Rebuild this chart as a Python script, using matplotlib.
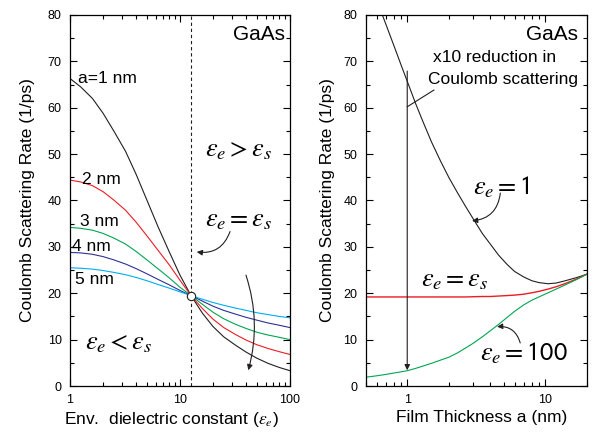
import numpy as np
from matplotlib import pyplot as plt
from matplotlib.ticker import MultipleLocator, LogLocator, NullFormatter, FixedLocator, FixedFormatter

plt.rcParams['font.family'] = ['Liberation Sans', 'DejaVu Sans']
plt.rcParams['mathtext.fontset'] = 'stix'

# left panel: rate vs environment dielectric constant, one curve per film thickness
eps_env = [1, 1.25, 1.6, 2, 2.5, 3.2, 4, 5, 6.3, 8, 10, 12.6, 16, 20, 25, 32, 40, 50, 63, 80, 100]
rate_1nm = [66.3, 64.5, 62.0, 58.8, 55.0, 50.6, 45.6, 40.1, 34.4, 28.9, 23.9, 19.5,
            15.7, 12.8, 10.6, 8.8, 7.3, 6.0, 4.9, 4.0, 3.3]
rate_2nm = [44.4, 44.0, 43.2, 41.9, 40.1, 37.9, 35.3, 32.4, 29.3, 26.1, 22.8, 19.5,
            16.7, 14.4, 12.6, 11.1, 9.9, 8.9, 8.1, 7.4, 6.8]
rate_3nm = [34.2, 34.0, 33.6, 32.9, 31.9, 30.6, 29.0, 27.2, 25.3, 23.3, 21.3, 19.5,
            17.6, 15.9, 14.5, 13.3, 12.4, 11.6, 11.0, 10.5, 10.0]
rate_4nm = [28.8, 28.7, 28.4, 27.9, 27.2, 26.3, 25.3, 24.2, 23.0, 21.8, 20.6, 19.5,
            18.3, 17.2, 16.3, 15.5, 14.8, 14.2, 13.6, 13.1, 12.6]
rate_5nm = [25.5, 25.4, 25.2, 24.9, 24.5, 24.0, 23.4, 22.7, 21.9, 21.1, 20.3, 19.5,
            18.7, 18.0, 17.4, 16.8, 16.3, 15.8, 15.4, 15.0, 14.7]
eps_s = 12.6
rate_cross = 19.5

# right panel: rate vs film thickness
film_a_eps1 = [0.66, 0.7, 0.8, 0.9, 1, 1.15, 1.3, 1.5, 1.75, 2, 2.3, 2.65, 3, 3.5, 4, 4.6,
               5.3, 6, 7, 8, 9, 10.5, 12, 14, 17, 20]
rate_eps1 = [80.0, 78.0, 73.4, 69.3, 65.7, 60.9, 57.0, 52.6, 48.4, 45.0, 41.8, 38.7, 36.1,
             32.9, 30.6, 28.2, 26.2, 24.7, 23.5, 22.7, 22.3, 22.05, 22.2, 22.7, 23.4, 24.1]
film_a = [0.5, 0.6, 0.7, 0.8, 0.9, 1, 1.15, 1.3, 1.5, 1.75, 2, 2.3, 2.65, 3, 3.5, 4, 4.6,
          5.3, 6, 7, 8, 9, 10.5, 12, 14, 17, 20]
rate_eps_s = [19.2, 19.2, 19.2, 19.2, 19.2, 19.2, 19.2, 19.2, 19.2, 19.2, 19.2, 19.2, 19.2,
              19.25, 19.3, 19.3, 19.4, 19.5, 19.6, 19.8, 20.1, 20.4, 20.9, 21.4, 22.1, 23.1, 24.1]
rate_eps100 = [1.9, 2.2, 2.5, 2.8, 3.05, 3.3, 3.8, 4.3, 4.9, 5.6, 6.2, 7.1, 8.2, 9.2, 10.6,
               11.9, 13.3, 14.8, 16.1, 17.5, 18.5, 19.2, 20.1, 20.9, 21.8, 23.0, 24.1]

c_black = '#231f20'
c_red = '#ed1c24'
c_green = '#00a651'
c_navy = '#2e3192'
c_cyan = '#00aeef'

fig = plt.figure(figsize=(5.93, 4.33), dpi=100)
ax1 = fig.add_axes([0.118, 0.1085, 0.371, 0.857])
ax2 = fig.add_axes([0.6167, 0.1085, 0.3727, 0.857])


def style_axis(ax):
    ax.set_xscale('log')
    ax.set_ylim(0, 80)
    ax.yaxis.set_major_locator(MultipleLocator(10))
    ax.yaxis.set_minor_locator(MultipleLocator(5))
    ax.xaxis.set_minor_locator(LogLocator(base=10, subs=np.arange(2, 10)))
    ax.xaxis.set_minor_formatter(NullFormatter())
    ax.tick_params(which='both', direction='in', top=True, right=True, width=0.8, labelsize=9)
    ax.tick_params(which='major', length=5)
    ax.tick_params(which='minor', length=3)
    ax.tick_params(axis='y', pad=6)
    ax.tick_params(axis='x', pad=6)
    for s in ax.spines.values():
        s.set_linewidth(0.9)


arrow = dict(arrowstyle='-|>', color=c_black, lw=0.8, mutation_scale=8, shrinkA=0, shrinkB=0)
eps_font = 19
txt_font = 12.5

# ---- left panel
style_axis(ax1)
ax1.set_xlim(1, 100)
ax1.xaxis.set_major_locator(FixedLocator([1, 10, 100]))
ax1.xaxis.set_major_formatter(FixedFormatter(['1', '10', '100']))
ax1.plot(eps_env, rate_1nm, color=c_black, lw=0.8)
ax1.plot(eps_env, rate_2nm, color=c_red, lw=0.8)
ax1.plot(eps_env, rate_3nm, color=c_green, lw=0.8)
ax1.plot(eps_env, rate_4nm, color=c_navy, lw=0.8)
ax1.plot(eps_env, rate_5nm, color=c_cyan, lw=0.8)
ax1.axvline(eps_s, color=c_black, lw=0.8, ls=(0, (3, 2.5)))
ax1.plot([eps_s], [rate_cross], 'o', ms=6, mfc='white', mec=c_black, mew=0.8, zorder=5)

ax1.text(1.18, 66.4, 'a=1 nm', fontsize=txt_font, va='center')
ax1.text(1.29, 44.6, '2 nm', fontsize=txt_font, va='center')
ax1.text(1.23, 35.4, '3 nm', fontsize=txt_font, va='center')
ax1.text(1.04, 30.0, '4 nm', fontsize=txt_font, va='center')
ax1.text(1.11, 22.9, '5 nm', fontsize=txt_font, va='center')
ax1.text(0.977, 0.973, 'GaAs', transform=ax1.transAxes, fontsize=15, ha='right', va='top',
         bbox=dict(fc='white', ec='none', pad=0.5))
ax1.text(16.9, 50.9, r'$\varepsilon_e > \varepsilon_s$', fontsize=eps_font, va='center')
ax1.text(16.9, 35.8, r'$\varepsilon_e = \varepsilon_s$', fontsize=eps_font, va='center')
ax1.text(1.37, 9.3, r'$\varepsilon_e < \varepsilon_s$', fontsize=eps_font, va='center')
ax1.annotate('', xy=(14.2, 28.9), xytext=(28.5, 33.3),
             arrowprops=dict(arrow, connectionstyle='arc3,rad=-0.4'))
ax1.annotate('', xy=(41.8, 3.4), xytext=(39.8, 23.9),
             arrowprops=dict(arrow, connectionstyle='arc3,rad=-0.15'))

ax1.set_xlabel(r'Env.  dielectric constant ($\varepsilon_e$)', fontsize=12.5)
ax1.set_ylabel('Coulomb Scattering Rate (1/ps)', fontsize=12.5)
ax1.yaxis.set_label_coords(-0.16, 0.5)
ax1.xaxis.set_label_coords(0.46, -0.065)

# ---- right panel
style_axis(ax2)
ax2.set_xlim(0.5, 20)
ax2.xaxis.set_major_locator(FixedLocator([1, 10]))
ax2.xaxis.set_major_formatter(FixedFormatter(['1', '10']))
ax2.plot(film_a_eps1, rate_eps1, color=c_black, lw=0.8)
ax2.plot(film_a, rate_eps_s, color=c_red, lw=1.0)
ax2.plot(film_a, rate_eps100, color=c_green, lw=0.8)

# x10 reduction arrow
ax2.annotate('', xy=(1, 3.4), xytext=(1, 67.9), arrowprops=arrow)
ax2.plot([1, 1.56], [60.2, 63.8], color=c_black, lw=0.8)
ax2.text(4.28, 70.9, 'x10 reduction in', fontsize=txt_font, ha='center', va='center')
ax2.text(4.97, 66.0, 'Coulomb scattering', fontsize=txt_font, ha='center', va='center')

ax2.text(0.96, 0.973, 'GaAs', transform=ax2.transAxes, fontsize=15, ha='right', va='top',
         bbox=dict(fc='white', ec='none', pad=0.5))
ax2.text(3.02, 42.9, r'$\varepsilon_e = \mathsf{1}$', fontsize=eps_font, va='center')
ax2.text(1.25, 22.9, r'$\varepsilon_e = \varepsilon_s$', fontsize=eps_font, va='center')
ax2.text(3.39, 7.1, r'$\varepsilon_e = \mathsf{100}$', fontsize=eps_font, va='center')
ax2.annotate('', xy=(2.95, 35.6), xytext=(4.73, 41.6),
             arrowprops=dict(arrow, connectionstyle='arc3,rad=-0.4'))
ax2.annotate('', xy=(4.48, 12.8), xytext=(6.59, 9.3),
             arrowprops=dict(arrow, connectionstyle='arc3,rad=0.4'))

ax2.set_xlabel('Film Thickness a (nm)', fontsize=12.5)
ax2.set_ylabel('Coulomb Scattering Rate (1/ps)', fontsize=12.5)
ax2.yaxis.set_label_coords(-0.14, 0.5)
ax2.xaxis.set_label_coords(0.526, -0.065)

plt.savefig('out.png', dpi=100)
